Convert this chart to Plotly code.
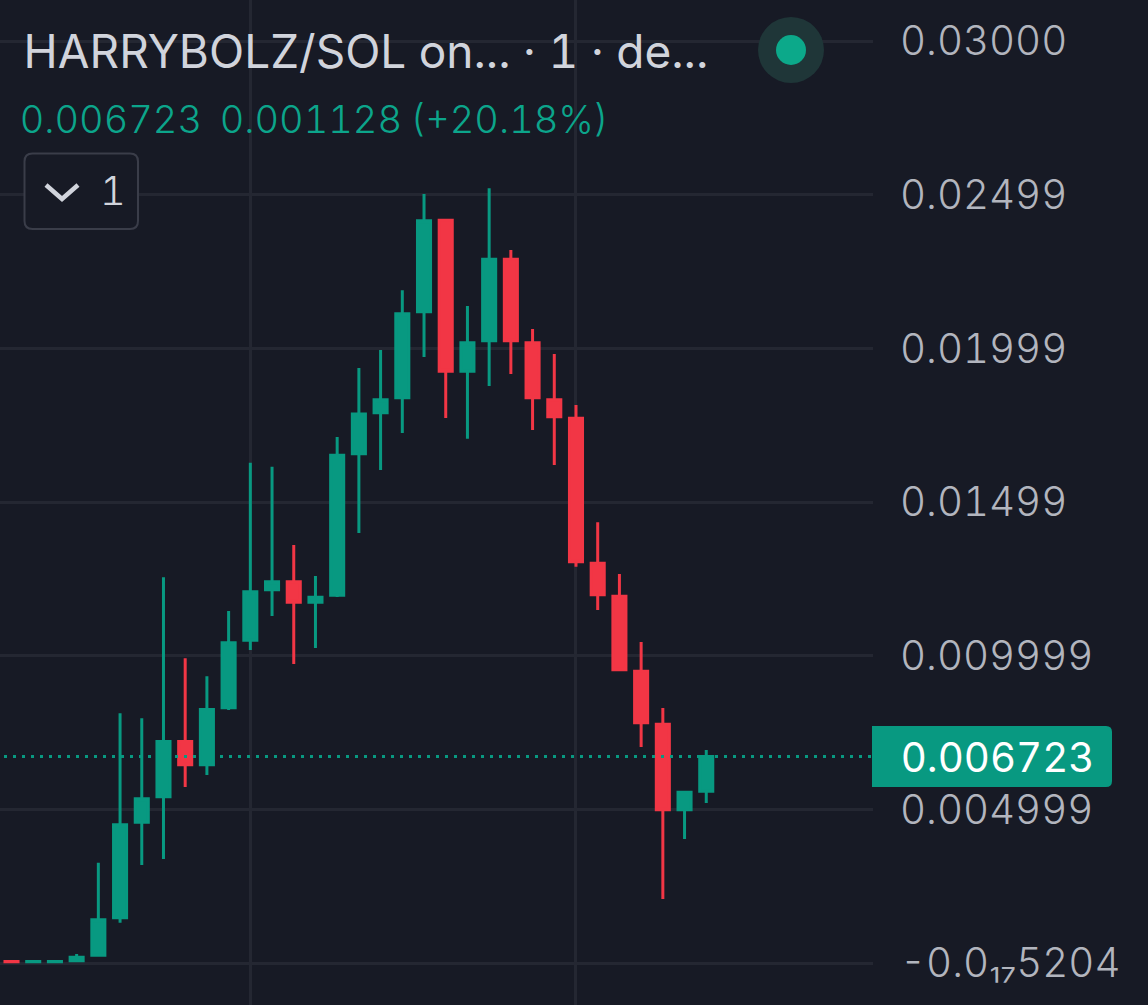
import plotly.graph_objects as go

# candles, oldest first
opens = [0.000058, 0.000052, 0.000052, 0.000086, 0.000259, 0.001485, 0.004585, 0.005421, 0.007211, 0.006462, 0.008317,
         0.010506, 0.012155, 0.012415, 0.011742, 0.011970, 0.016579, 0.017913, 0.018401, 0.021199, 0.024169, 0.019257,
         0.020256, 0.022900, 0.020190, 0.018336, 0.017728, 0.013011, 0.011937, 0.009498, 0.007773, 0.004998, 0.005595]
highs = [0.000058, 0.000058, 0.000058, 0.000303, 0.003273, 0.008133, 0.007970, 0.012557, 0.009922, 0.009336, 0.011461,
         0.016285, 0.016155, 0.013608, 0.012599, 0.017121, 0.019366, 0.019951, 0.021893, 0.025026, 0.024213, 0.021383,
         0.025212, 0.023204, 0.020634, 0.019821, 0.018162, 0.014346, 0.012664, 0.010452, 0.008305, 0.005605, 0.006939]
lows = [0.000052, 0.000052, 0.000052, 0.000042, 0.000215, 0.001321, 0.003198, 0.003393, 0.005735, 0.006126, 0.008240,
        0.010192, 0.011298, 0.009737, 0.010257, 0.011916, 0.013998, 0.016048, 0.017251, 0.019724, 0.017739, 0.017066,
        0.018780, 0.019171, 0.017349, 0.016210, 0.012902, 0.011493, 0.009509, 0.007037, 0.002092, 0.004044, 0.005215]
closes = [0.000052, 0.000058, 0.000058, 0.000194, 0.001420, 0.004510, 0.005356, 0.007211, 0.006462, 0.008252, 0.010431,
          0.012090, 0.012415, 0.011742, 0.011905, 0.016524, 0.017868, 0.018336, 0.021134, 0.024159, 0.019257, 0.020190,
          0.022900, 0.020256, 0.018401, 0.017783, 0.013066, 0.011993, 0.009553, 0.007829, 0.004998, 0.005561, 0.006723]
bar_index = list(range(len(opens)))

y_ticks = [0, 0.005, 0.01, 0.015, 0.02, 0.025, 0.03]
y_labels = ["-0.0₁₇5204", "0.004999", "0.009999", "0.01499", "0.01999", "0.02499", "0.03000"]
x_grid = [11, 26]
last_price = 0.006723
last_label = "0.006723"
title_text = "HARRYBOLZ/SOL on... · 1 · de..."
legend_close = "0.006723"
legend_change = "0.001128"
legend_pct = "(+20.18%)"
pane_count = "1"

BG = "#171a25"
GRID = "#242732"
GREEN = "#089981"
LEGEND_GREEN = "#0ca58b"
RED = "#f23645"
FONT = "Inter"
W, H = 1148, 1005
PLOT_W = 873


def px(x):
    return x / PLOT_W


def py(y):
    return 1 - y / H


def round_rect(x0, y0, x1, y1, r_left, r_right):
    # rounded box in pixels, converted to paper coordinates
    pts = [
        f"M {px(x0 + r_left)},{py(y0)}",
        f"L {px(x1 - r_right)},{py(y0)}",
        f"Q {px(x1)},{py(y0)} {px(x1)},{py(y0 + r_right)}",
        f"L {px(x1)},{py(y1 - r_right)}",
        f"Q {px(x1)},{py(y1)} {px(x1 - r_right)},{py(y1)}",
        f"L {px(x0 + r_left)},{py(y1)}",
        f"Q {px(x0)},{py(y1)} {px(x0)},{py(y1 - r_left)}",
        f"L {px(x0)},{py(y0 + r_left)}",
        f"Q {px(x0)},{py(y0)} {px(x0 + r_left)},{py(y0)}",
        "Z",
    ]
    return " ".join(pts)


def label(text, x, y, size, color, anchor="left", weight=400):
    fig.add_annotation(text=text, xref="paper", yref="paper", x=px(x), y=py(y), xanchor=anchor, yanchor="middle",
                       showarrow=False, borderpad=0, font=dict(family=FONT, size=size, color=color, weight=weight))


fig = go.Figure(go.Candlestick(
    x=bar_index, open=opens, high=highs, low=lows, close=closes,
    increasing=dict(line=dict(color=GREEN, width=3), fillcolor=GREEN),
    decreasing=dict(line=dict(color=RED, width=3), fillcolor=RED),
    whiskerwidth=0,
))

# last price line
fig.add_shape(type="line", xref="paper", yref="y", x0=px(4), x1=1, y0=last_price, y1=last_price,
              line=dict(color=GREEN, width=3, dash="3px,6px"))
# last price tag
fig.add_shape(type="path", xref="paper", yref="paper", path=round_rect(872, 726, 1112, 787, 0, 6),
              fillcolor=GREEN, line=dict(width=0))
# pane toggle box and chevron
fig.add_shape(type="path", xref="paper", yref="paper", path=round_rect(24.5, 153.5, 138, 229, 8, 8),
              fillcolor=BG, line=dict(color="#3a3d49", width=2))
fig.add_shape(type="path", xref="paper", yref="paper",
              path=f"M {px(46)},{py(185)} L {px(62)},{py(199)} L {px(78)},{py(185)}",
              line=dict(color="#d1d4dc", width=4.5))
# status dot
fig.add_shape(type="circle", xref="paper", yref="paper", x0=px(758), x1=px(824), y0=py(83), y1=py(17),
              fillcolor="#1f3638", line=dict(width=0))
fig.add_shape(type="circle", xref="paper", yref="paper", x0=px(776), x1=px(806), y0=py(65), y1=py(35),
              fillcolor="#0ca98a", line=dict(width=0))

# x values are offset: annotation boxes get measured before the tabular digits kick in
label(title_text, 24, 51, 46, "#d1d4dc")
label(legend_close, 25.3, 119, 38, LEGEND_GREEN, weight=300)
label(legend_change, 232, 119, 38, LEGEND_GREEN, weight=300)
label(legend_pct, 420, 119, 38, LEGEND_GREEN, weight=300)
label(pane_count, 104, 190, 40, "#d1d4dc", weight=300)
label(last_label, 905, 757, 40.3, "#ffffff")

fig.update_layout(
    width=W, height=H,
    margin=dict(l=0, r=W - PLOT_W, t=0, b=0, pad=0),
    paper_bgcolor=BG, plot_bgcolor=BG,
    showlegend=False,
    boxgap=0.14,
    xaxis=dict(range=[-0.53, 39.68], tickvals=x_grid, showticklabels=False, ticks="",
               showgrid=True, gridcolor=GRID, gridwidth=2.5, zeroline=False, rangeslider=dict(visible=False)),
    yaxis=dict(range=[-0.001357, 0.031337], tickvals=y_ticks, ticktext=y_labels, side="right", ticks="",
               showgrid=True, gridcolor=GRID, gridwidth=2.5, zeroline=False, ticklabelstandoff=26,
               tickfont=dict(family=FONT, size=40.3, color="#b2b5be", weight=300)),
)

# tabular digits, the labels in the reference all have the same width
page_css = ("document.body.style.margin='0';document.body.style.background='" + BG + "';"
            "var s=document.createElement('style');"
            "s.textContent='.main-svg text{font-feature-settings:\"tnum\";}';"
            "document.head.appendChild(s);")
fig.write_html("out.html", config=dict(displayModeBar=False), post_script=page_css)
